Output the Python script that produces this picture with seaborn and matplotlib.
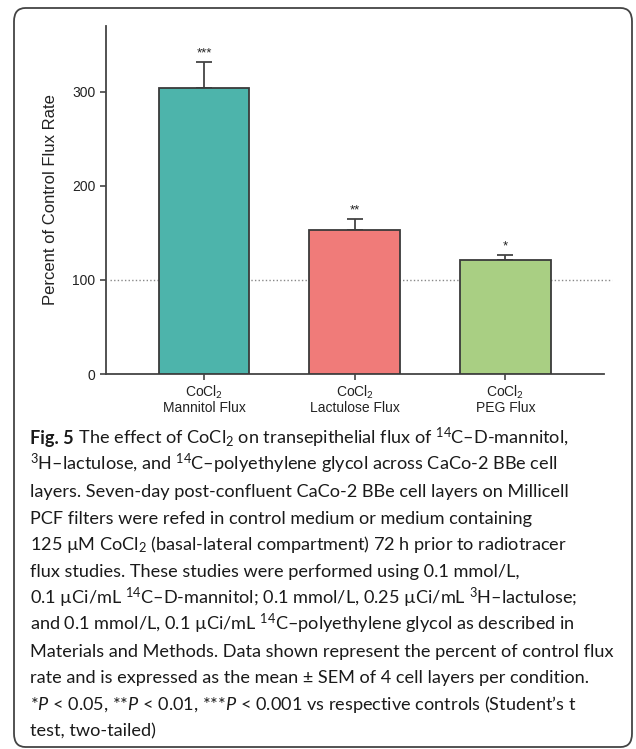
import matplotlib
matplotlib.use("Agg")
import matplotlib.pyplot as plt
from matplotlib.patches import FancyBboxPatch
from matplotlib.transforms import offset_copy
import seaborn as sns
import pandas as pd

# Flux data: percent of control, mean and SEM (n = 4 cell layers)
groups = ["CoCl$_2$\nMannitol Flux", "CoCl$_2$\nLactulose Flux", "CoCl$_2$\nPEG Flux"]
means = [304, 153, 121]
sems = [28, 12, 6]
stars = ["***", "**", "*"]
bar_colors = ["#4DB4AB", "#F07B79", "#A9CF83"]
y_ticks = [0, 100, 200, 300]
control_level = 100

caption_label = "Fig. 5"
caption_lines = [
    r" The effect of CoCl$_2$ on transepithelial flux of $^{14}$C–D-mannitol,",
    r"$^{3}$H–lactulose, and $^{14}$C–polyethylene glycol across CaCo-2 BBe cell",
    "layers. Seven-day post-confluent CaCo-2 BBe cell layers on Millicell",
    "PCF filters were refed in control medium or medium containing",
    r"125 µM CoCl$_2$ (basal-lateral compartment) 72 h prior to radiotracer",
    "flux studies. These studies were performed using 0.1 mmol/L,",
    r"0.1 µCi/mL $^{14}$C–D-mannitol; 0.1 mmol/L, 0.25 µCi/mL $^{3}$H–lactulose;",
    r"and 0.1 mmol/L, 0.1 µCi/mL $^{14}$C–polyethylene glycol as described in",
    "Materials and Methods. Data shown represent the percent of control flux",
    "rate and is expressed as the mean ± SEM of 4 cell layers per condition.",
    r"*$\mathit{P}$ < 0.05, **$\mathit{P}$ < 0.01, ***$\mathit{P}$ < 0.001 vs respective controls (Student’s t",
    "test, two-tailed)",
]

df = pd.DataFrame({"group": groups, "mean": means, "sem": sems})

sns.set_theme(style="ticks")
plt.rcParams["font.family"] = ["Liberation Sans", "DejaVu Sans"]
plt.rcParams["mathtext.fontset"] = "custom"
plt.rcParams["mathtext.rm"] = "Lato"
plt.rcParams["mathtext.it"] = "Lato:italic"
plt.rcParams["mathtext.bf"] = "Lato:bold"

W, H = 636, 749
fig = plt.figure(figsize=(W / 100, H / 100), dpi=100)
fig.patch.set_facecolor("white")

# Rounded frame around figure and caption
frame = FancyBboxPatch((14 / W, 1 - 747 / H), (632 - 14) / W, (747 - 8) / H,
                       boxstyle="round,pad=0,rounding_size=0.018",
                       transform=fig.transFigure, facecolor="none",
                       edgecolor="#444444", linewidth=1.3)
fig.patches.append(frame)

ax = fig.add_axes([106 / W, 1 - 374 / H, (604 - 106) / W, (374 - 26) / H])
ax.set_facecolor("white")

sns.barplot(data=df, x="group", y="mean", hue="group", palette=bar_colors,
            saturation=1, width=0.6, errorbar=None, edgecolor="#3a3a3a",
            linewidth=1.3, legend=False, ax=ax, zorder=3)

xpos = list(range(len(groups)))
ax.errorbar(xpos, means, yerr=[[0] * len(sems), sems], fmt="none",
            ecolor="#444444", elinewidth=1.3, capsize=5.5, capthick=1.3, zorder=2)

for x, m, s, st in zip(xpos, means, sems, stars):
    ax.annotate(st, (x, m + s), xytext=(0, 1.5), textcoords="offset points",
                ha="center", va="bottom", fontsize=9.5, color="#222222")

# Control reference line
ax.plot([4 / (604 - 106), (612 - 106) / (604 - 106)], [control_level, control_level],
        transform=ax.get_yaxis_transform(), linestyle=(0, (1, 1.6)),
        color="#888888", linewidth=1.0, clip_on=False, zorder=1)

ax.set_xlim(-0.65, 2.654)
ax.set_ylim(0, 370)
ax.set_yticks(y_ticks)
ax.set_xlabel("")
ax.set_ylabel("Percent of Control Flux Rate", fontsize=12, labelpad=10, color="#222222")
sns.despine(ax=ax)
for side in ["left", "bottom"]:
    ax.spines[side].set_color("#444444")
    ax.spines[side].set_linewidth(1.3)
ax.tick_params(axis="both", length=4, width=1.2, color="#444444",
               labelsize=10, labelcolor="#222222")
ax.tick_params(axis="x", pad=3)
for lbl in ax.get_xticklabels():
    lbl.set_linespacing(1.05)
    lbl.set_fontsize(10)

# Caption text: bold figure label followed by the first caption line
cap_font = dict(fontsize=13.1, family=["Lato", "DejaVu Sans"], color="#1a1a1a")
renderer = fig.canvas.get_renderer()
y0 = 444
label = fig.text(30 / W, 1 - y0 / H, caption_label, ha="left", va="baseline",
                 fontweight="bold", **cap_font)
label_w = label.get_window_extent(renderer).width
for i, line in enumerate(caption_lines):
    y = y0 + 26.6 * i
    if i == 0:
        tr = offset_copy(fig.transFigure, fig=fig, x=label_w * 72 / fig.dpi, y=0,
                         units="points")
    else:
        tr = fig.transFigure
    fig.text(30 / W, 1 - y / H, line, ha="left", va="baseline", transform=tr,
             **cap_font)

fig.savefig("out.png", dpi=100, facecolor="white")
